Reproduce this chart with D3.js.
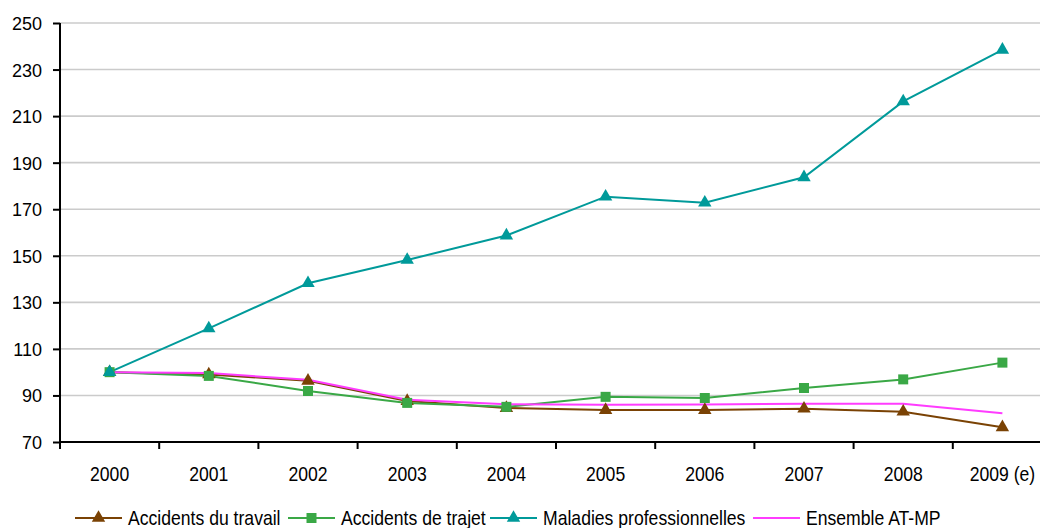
<!DOCTYPE html>
<html>
<head>
<meta charset="utf-8">
<script src="https://cdn.jsdelivr.net/npm/d3@7"></script>
<style>
  html, body { margin: 0; padding: 0; background: #fff; }
  svg { display: block; font-family: "Liberation Sans", Arial, sans-serif; }
</style>
</head>
<body>
<svg id="chart" width="1040" height="528"></svg>
<script>
const years = ["2000", "2001", "2002", "2003", "2004", "2005", "2006", "2007", "2008", "2009 (e)"];
const accidentsTravail = [100, 99, 96.3, 87.6, 84.6, 83.7, 83.7, 84.3, 83, 76.3];
const accidentsTrajet = [100, 98.4, 91.9, 86.8, 85.1, 89.4, 88.9, 93.2, 96.9, 104.1];
const maladiesPro = [100, 118.8, 138.2, 148.2, 158.7, 175.4, 172.8, 183.7, 216.3, 238.5];
const ensemble = [100, 99.6, 96.7, 88.2, 86.2, 86.0, 86.1, 86.4, 86.4, 82.3];
const yTicks = [70, 90, 110, 130, 150, 170, 190, 210, 230, 250];

(function () {
const series = [
  { name: "Accidents du travail", values: accidentsTravail, color: "#7a4204", marker: "triangle" },
  { name: "Accidents de trajet", values: accidentsTrajet, color: "#3aa846", marker: "square" },
  { name: "Maladies professionnelles", values: maladiesPro, color: "#009a9a", marker: "triangle" },
  { name: "Ensemble AT-MP", values: ensemble, color: "#ff3cff", marker: null }
];

const svg = d3.select("#chart");
const pLeft = 60, pRight = 1052, pTop = 23, pBottom = 442;
const SX = 0.88;

const x = d3.scaleBand().domain(years).range([pLeft, pRight]).padding(0);
const y = d3.scaleLinear().domain([70, 250]).range([pBottom, pTop]);

// gridlines
svg.append("g").selectAll("line").data(yTicks.filter(t => t !== 70)).join("line")
  .attr("x1", pLeft).attr("x2", 1040)
  .attr("y1", d => y(d)).attr("y2", d => y(d))
  .attr("stroke", "#cbcbcb").attr("stroke-width", 1.6);

// y axis
const yAxis = svg.append("g").attr("transform", `translate(${pLeft},0)`)
  .call(d3.axisLeft(y).tickValues(yTicks).tickSize(7).tickPadding(11));
yAxis.select(".domain").attr("stroke", "#000").attr("stroke-width", 2).attr("d", `M0,${pTop}V${pBottom}`);
yAxis.selectAll(".tick line").attr("stroke", "#000").attr("stroke-width", 2);
yAxis.selectAll(".tick text").attr("font-size", 18).attr("fill", "#000")
  .attr("font-family", "'Liberation Sans', Arial, sans-serif").attr("dy", "0.36em");

// x axis
const xAxis = svg.append("g").attr("transform", `translate(0,${pBottom})`);
xAxis.append("line").attr("x1", pLeft).attr("x2", 1040).attr("y1", 0).attr("y2", 0)
  .attr("stroke", "#000").attr("stroke-width", 2);
const boundaries = years.map(d => x(d));
xAxis.selectAll("line.tk").data(boundaries).join("line").attr("class", "tk")
  .attr("x1", d => d).attr("x2", d => d).attr("y1", 0).attr("y2", 7)
  .attr("stroke", "#000").attr("stroke-width", 2);
xAxis.selectAll("text").data(years).join("text")
  .attr("transform", d => `translate(${x(d) + x.bandwidth() / 2},${481 - pBottom}) scale(${SX},1)`)
  .attr("text-anchor", "middle").attr("font-size", 20).attr("fill", "#000")
  .text(d => d);

const cx = d => x(d) + x.bandwidth() / 2;
const line = d3.line().x((v, i) => cx(years[i])).y(v => y(v));

// lines
series.forEach(s => {
  svg.append("path").datum(s.values)
    .attr("d", line).attr("fill", "none")
    .attr("stroke", s.color).attr("stroke-width", 2);
});

const symTri = d3.symbol().type(d3.symbolTriangle).size(78);
const symSq = d3.symbol().type(d3.symbolSquare).size(100);

// markers
series.forEach(s => {
  if (!s.marker) return;
  svg.append("g").selectAll("path").data(s.values).join("path")
    .attr("transform", (v, i) => `translate(${cx(years[i])},${y(v)})`)
    .attr("d", s.marker === "triangle" ? symTri() : symSq())
    .attr("fill", s.color);
});

// legend
const legendX = [75, 288, 490, 753];
const legendY = 518;
series.forEach((s, i) => {
  const g = svg.append("g").attr("transform", `translate(${legendX[i]},${legendY})`);
  g.append("line").attr("x1", 0).attr("x2", 47).attr("y1", 0).attr("y2", 0)
    .attr("stroke", s.color).attr("stroke-width", 2);
  if (s.marker) {
    g.append("path").attr("transform", "translate(23.5,0)")
      .attr("d", s.marker === "triangle" ? symTri() : symSq()).attr("fill", s.color);
  }
  g.append("text").attr("transform", `translate(53,7) scale(${SX},1)`)
    .attr("font-size", 20).attr("fill", "#000").text(s.name);
});
})();
</script>
</body>
</html>
